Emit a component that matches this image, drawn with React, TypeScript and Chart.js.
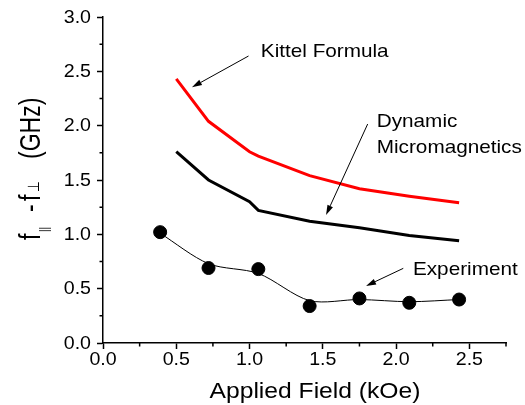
import React, { useEffect, useRef } from 'react';
import { Chart, registerables } from 'chart.js';

Chart.register(...registerables);

// ---- data ----
const fieldModel = [0.5, 0.72, 1.0, 1.06, 1.41, 1.75, 2.09, 2.43];
const kittelFormula = [2.43, 2.04, 1.76, 1.72, 1.54, 1.42, 1.35, 1.29];
const dynamicMicromagnetics = [1.76, 1.5, 1.3, 1.22, 1.12, 1.06, 0.99, 0.94];
const fieldExperiment = [0.39, 0.72, 1.06, 1.41, 1.75, 2.09, 2.43];
const experiment = [1.02, 0.69, 0.68, 0.34, 0.41, 0.37, 0.4];
const experimentFit = [1.01, 0.73, 0.64, 0.39, 0.4, 0.38, 0.4];

const xTitle = 'Applied Field (kOe)';
const annotationLabels = [
  { lines: ['Kittel Formula'], x: 1.077, y: 2.635 },
  { lines: ['Dynamic', 'Micromagnetics'], x: 1.868, y: 1.985 },
  { lines: ['Experiment'], x: 2.115, y: 0.626 },
];
const annotationArrows = [
  { from: [0.993, 2.641], to: [0.607, 2.353] },
  { from: [1.806, 2.015], to: [1.522, 1.178] },
  { from: [2.049, 0.687], to: [1.795, 0.525] },
];

// ---- styling ----
const FONT = '"Liberation Sans", Arial, Helvetica, sans-serif';
const SX = 1.12;
const SX_Y = 1.3;

const isMajor = (v: number) => Math.abs(v * 2 - Math.round(v * 2)) < 1e-6;

function stretchText(
  ctx: CanvasRenderingContext2D,
  text: string,
  x: number,
  y: number,
  size: number,
  align: CanvasTextAlign,
  baseline: CanvasTextBaseline
) {
  ctx.save();
  ctx.translate(x, y);
  ctx.scale(SX, 1);
  ctx.font = `${size}px ${FONT}`;
  ctx.textAlign = align;
  ctx.textBaseline = baseline;
  ctx.fillStyle = '#000';
  ctx.fillText(text, 0, 0);
  ctx.restore();
}

function drawArrow(ctx: CanvasRenderingContext2D, x1: number, y1: number, x2: number, y2: number) {
  const ang = Math.atan2(y2 - y1, x2 - x1);
  const L = 10;
  const W = 3;
  const bx = x2 - L * Math.cos(ang);
  const by = y2 - L * Math.sin(ang);
  ctx.save();
  ctx.strokeStyle = '#000';
  ctx.fillStyle = '#000';
  ctx.lineWidth = 1;
  ctx.beginPath();
  ctx.moveTo(x1, y1);
  ctx.lineTo(bx, by);
  ctx.stroke();
  ctx.beginPath();
  ctx.moveTo(x2, y2);
  ctx.lineTo(bx + W * Math.sin(ang), by - W * Math.cos(ang));
  ctx.lineTo(bx - W * Math.sin(ang), by + W * Math.cos(ang));
  ctx.closePath();
  ctx.fill();
  ctx.restore();
}

const decorPlugin = {
  id: 'decor',
  afterDraw(chart: any) {
    const ctx: CanvasRenderingContext2D = chart.ctx;
    const xs = chart.scales.x;
    const ys = chart.scales.y;
    const area = chart.chartArea;

    // minor ticks
    ctx.save();
    ctx.strokeStyle = '#000';
    ctx.lineWidth = 1.5;
    ctx.beginPath();
    xs.ticks.forEach((t: any) => {
      if (isMajor(t.value)) return;
      const px = xs.getPixelForValue(t.value);
      ctx.moveTo(px, area.bottom);
      ctx.lineTo(px, area.bottom + 3.5);
    });
    ys.ticks.forEach((t: any) => {
      if (isMajor(t.value)) return;
      const py = ys.getPixelForValue(t.value);
      ctx.moveTo(area.left, py);
      ctx.lineTo(area.left - 3.5, py);
    });
    ctx.stroke();
    ctx.restore();

    // tick labels
    xs.ticks.forEach((t: any) => {
      if (!isMajor(t.value)) return;
      stretchText(ctx, t.value.toFixed(1), xs.getPixelForValue(t.value), 365, 17.5, 'center', 'alphabetic');
    });
    ys.ticks.forEach((t: any) => {
      if (!isMajor(t.value)) return;
      stretchText(ctx, t.value.toFixed(1), area.left - 12, ys.getPixelForValue(t.value) + 1, 17.5, 'right', 'middle');
    });

    // x title
    stretchText(ctx, xTitle, 315, 398, 22, 'center', 'alphabetic');

    // y title with subscripts (rotated)
    ctx.save();
    ctx.translate(40, 240);
    ctx.rotate(-Math.PI / 2);
    ctx.scale(1, SX_Y);
    ctx.fillStyle = '#000';
    ctx.textAlign = 'left';
    ctx.textBaseline = 'alphabetic';
    const parts = [
      { t: 'f', lx: 0, dy: 0, size: 23 },
      { t: '||', lx: 8, dy: 6, size: 10 },
      { t: '-', lx: 28, dy: 0, size: 23 },
      { t: 'f', lx: 39, dy: 0, size: 23 },
      { t: '\u22A5', lx: 48, dy: -1, size: 12 },
      { t: '(GHz)', lx: 81, dy: 0, size: 23 },
    ];
    parts.forEach((p) => {
      ctx.font = `${p.size}px ${FONT}`;
      ctx.fillText(p.t, p.lx, p.dy);
    });
    ctx.restore();

    // annotations
    annotationLabels.forEach((a) => {
      const px = xs.getPixelForValue(a.x);
      const py = ys.getPixelForValue(a.y);
      a.lines.forEach((line, i) => {
        stretchText(ctx, line, px, py + i * 26, 18.5, 'left', 'alphabetic');
      });
    });
    annotationArrows.forEach((a) => {
      drawArrow(
        ctx,
        xs.getPixelForValue(a.from[0]),
        ys.getPixelForValue(a.from[1]),
        xs.getPixelForValue(a.to[0]),
        ys.getPixelForValue(a.to[1])
      );
    });
  },
};

export default function App() {
  const ref = useRef<HTMLCanvasElement>(null);

  useEffect(() => {
    if (!ref.current) return;
    const chart = new Chart(ref.current, {
      type: 'line',
      data: {
        datasets: [
          {
            label: 'Experiment',
            data: fieldExperiment.map((x, i) => ({ x, y: experiment[i] })),
            showLine: false,
            pointRadius: 6.5,
            pointBackgroundColor: '#000',
            pointBorderColor: '#000',
            borderColor: '#000',
            order: 0,
          },
          {
            label: 'Experiment fit',
            data: fieldExperiment.map((x, i) => ({ x, y: experimentFit[i] })),
            borderColor: '#000',
            borderWidth: 1,
            pointRadius: 0,
            tension: 0.3,
            order: 1,
          },
          {
            label: 'Dynamic Micromagnetics',
            data: fieldModel.map((x, i) => ({ x, y: dynamicMicromagnetics[i] })),
            borderColor: '#000',
            borderWidth: 3,
            pointRadius: 0,
            tension: 0,
            order: 2,
          },
          {
            label: 'Kittel Formula',
            data: fieldModel.map((x, i) => ({ x, y: kittelFormula[i] })),
            borderColor: '#ff0000',
            borderWidth: 3,
            pointRadius: 0,
            tension: 0,
            order: 3,
          },
        ],
      },
      options: {
        responsive: false,
        animation: false,
        devicePixelRatio: 1,
        layout: { padding: { top: 17, right: 19, left: 0, bottom: 0 } },
        plugins: {
          legend: { display: false },
          tooltip: { enabled: false },
        },
        scales: {
          x: {
            type: 'linear',
            min: 0,
            max: 2.75,
            ticks: { stepSize: 0.25, display: false },
            grid: {
              drawOnChartArea: false,
              drawTicks: true,
              tickLength: 6,
              tickWidth: 1.5,
              tickColor: (c: any) => (c.tick && isMajor(c.tick.value) ? '#000' : 'rgba(0,0,0,0)'),
            },
            border: { display: true, color: '#000', width: 1.5 },
            afterFit: (s: any) => {
              s.height = 62;
            },
          },
          y: {
            type: 'linear',
            min: 0,
            max: 3,
            ticks: { stepSize: 0.25, display: false },
            grid: {
              drawOnChartArea: false,
              drawTicks: true,
              tickLength: 6,
              tickWidth: 1.5,
              tickColor: (c: any) => (c.tick && isMajor(c.tick.value) ? '#000' : 'rgba(0,0,0,0)'),
            },
            border: { display: true, color: '#000', width: 1.5 },
            afterFit: (s: any) => {
              s.width = 103;
            },
          },
        },
      },
      plugins: [decorPlugin],
    } as any);
    return () => chart.destroy();
  }, []);

  return (
    <div style={{ position: 'fixed', left: 0, top: 0, width: 525, height: 405, background: '#fff' }}>
      <canvas ref={ref} width={525} height={405} style={{ display: 'block' }} />
    </div>
  );
}
